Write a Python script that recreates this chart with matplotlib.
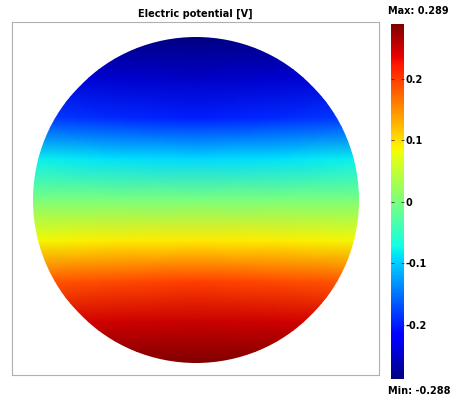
import numpy as np
import matplotlib
matplotlib.use('Agg')
import matplotlib.pyplot as plt
from matplotlib.patches import Circle

# potential [V], on a coarse grid
# rows: normalised y from top (+1) to bottom (-1); columns: normalised x
xs = [-1.0, -0.5, 0.0, 0.5, 1.0]
ys = [1.0, 0.75, 0.5, 0.25, 0.0, -0.25, -0.5, -0.75, -1.0]
pot = [
    [-0.280, -0.285, -0.288, -0.285, -0.280],
    [-0.240, -0.249, -0.253, -0.249, -0.240],
    [-0.180, -0.192, -0.198, -0.192, -0.180],
    [-0.080, -0.088, -0.092, -0.088, -0.080],
    [0.000, 0.000, 0.000, 0.000, 0.000],
    [0.085, 0.092, 0.095, 0.092, 0.085],
    [0.182, 0.192, 0.197, 0.192, 0.182],
    [0.242, 0.249, 0.252, 0.249, 0.242],
    [0.282, 0.287, 0.289, 0.287, 0.282],
]
vmin, vmax = -0.288, 0.289
cticks = [-0.2, -0.1, 0, 0.1, 0.2]
cticklabels = ['-0.2', '-0.1', '0', '0.1', '0.2']

fig = plt.figure(figsize=(4.62, 4.04), dpi=100)
ax = fig.add_axes([0.026, 0.072, 0.794, 0.874])
X, Y = np.meshgrid(xs, ys)
mesh = ax.pcolormesh(X, Y, np.array(pot), cmap='jet', vmin=vmin, vmax=vmax,
                     shading='gouraud')
disk = Circle((0, 0), 1.0, transform=ax.transData)
mesh.set_clip_path(disk)
ax.set_xlim(-1.129, 1.123)
ax.set_ylim(-1.074, 1.092)
ax.set_xticks([])
ax.set_yticks([])
for s in ax.spines.values():
    s.set_color('#b0b0b0')
    s.set_linewidth(0.8)
ax.set_title('Electric potential [V]', fontsize=7, fontweight='bold', pad=4)

cax = fig.add_axes([0.846, 0.062, 0.028, 0.879])
cb = fig.colorbar(mesh, cax=cax, ticks=cticks)
cb.ax.set_yticklabels(cticklabels, fontsize=7, fontweight='bold')
cb.ax.tick_params(length=2, width=0.6, pad=1.5, direction='in', left=True, right=True,
                  color='#333333')
cb.outline.set_visible(False)
fig.text(0.84, 0.973, 'Max: 0.289', fontsize=7, fontweight='bold', va='center')
fig.text(0.84, 0.032, 'Min: -0.288', fontsize=7, fontweight='bold', va='center')

fig.savefig('out.png', dpi=100)
